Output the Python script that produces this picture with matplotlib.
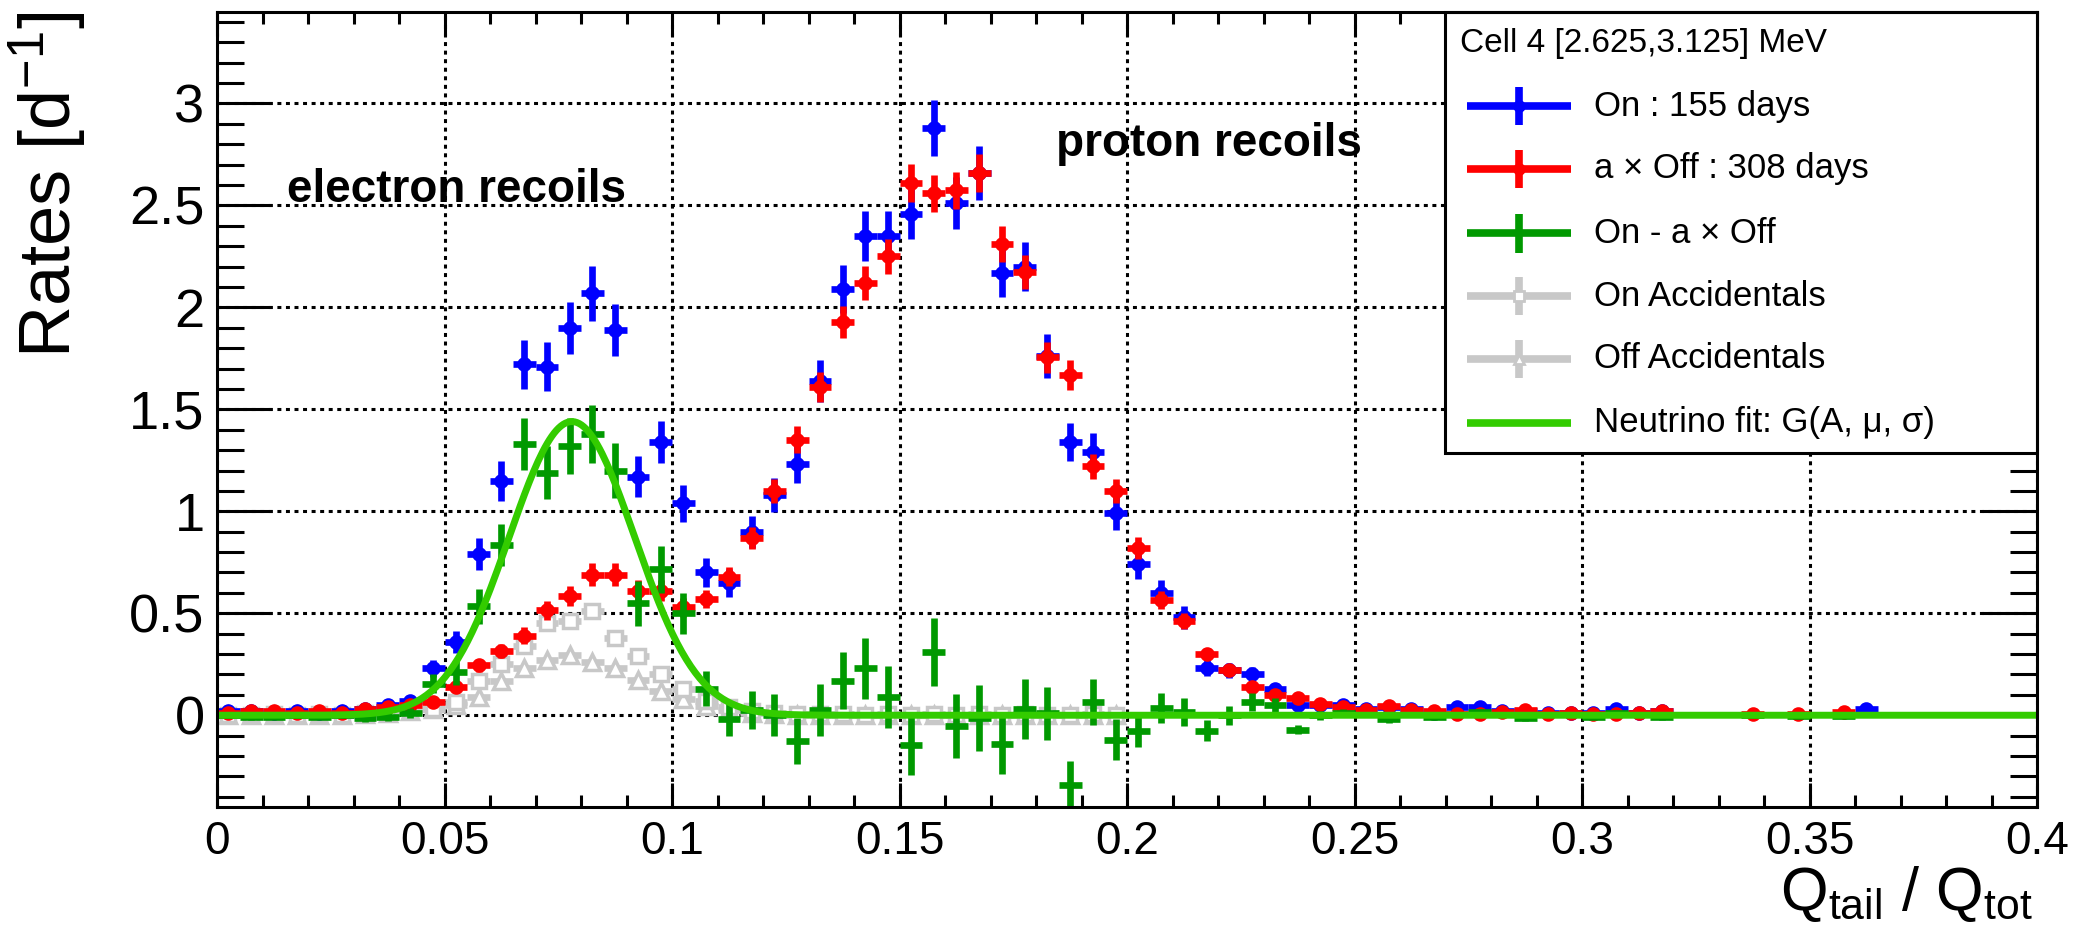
import numpy as np
import matplotlib.pyplot as plt
from matplotlib.ticker import MultipleLocator, FuncFormatter
from matplotlib.patches import Rectangle

plt.rcParams['font.family'] = ['Liberation Sans', 'DejaVu Sans']
plt.rcParams['mathtext.fontset'] = 'custom'
plt.rcParams['mathtext.rm'] = 'Liberation Sans'
plt.rcParams['mathtext.it'] = 'Liberation Sans:italic'

nan = np.nan

# histogram binning of Q_tail/Q_tot
bin_edges = np.linspace(0.0, 0.4, 81)
bin_centers = 0.5 * (bin_edges[:-1] + bin_edges[1:])
bin_halfwidth = 0.5 * (bin_edges[1] - bin_edges[0])

# On : 155 days
on_rate = [0.02, 0.02, 0.01, 0.02, 0.01, 0.02, 0.03, 0.05, 0.07, 0.23,
           0.36, 0.79, 1.15, 1.72, 1.71, 1.90, 2.07, 1.89, 1.17, 1.34,
           1.04, 0.70, 0.65, 0.90, 1.08, 1.23, 1.64, 2.09, 2.35, 2.35,
           2.46, 2.88, 2.51, 2.66, 2.17, 2.20, 1.76, 1.34, 1.29, 0.99,
           0.74, 0.60, 0.48, 0.23, 0.22, 0.20, 0.13, 0.05, 0.05, 0.05,
           0.03, 0.04, 0.03, 0.01, 0.04, 0.04, 0.02, 0.02, 0.01, 0.01,
           0.01, 0.03, 0.01, 0.02, nan, nan, nan, nan, nan, nan,
           nan, nan, 0.03, nan, nan, nan, nan, nan, nan, nan]
on_err = [0.012, 0.012, 0.008, 0.012, 0.008, 0.012, 0.014, 0.018, 0.022, 0.042,
          0.055, 0.080, 0.098, 0.122, 0.120, 0.128, 0.135, 0.128, 0.100, 0.105,
          0.090, 0.072, 0.068, 0.078, 0.085, 0.090, 0.104, 0.117, 0.124, 0.124,
          0.127, 0.137, 0.128, 0.132, 0.119, 0.120, 0.107, 0.094, 0.092, 0.080,
          0.070, 0.063, 0.056, 0.040, 0.038, 0.036, 0.029, 0.018, 0.018, 0.018,
          0.014, 0.016, 0.014, 0.008, 0.016, 0.016, 0.011, 0.011, 0.008, 0.008,
          0.008, 0.014, 0.008, 0.011, nan, nan, nan, nan, nan, nan,
          nan, nan, 0.014, nan, nan, nan, nan, nan, nan, nan]

# a x Off : 308 days
off_rate = [0.01, 0.02, 0.02, 0.01, 0.02, 0.01, 0.03, 0.04, 0.05, 0.065,
            0.14, 0.245, 0.315, 0.39, 0.515, 0.585, 0.69, 0.69, 0.61, 0.61,
            0.53, 0.57, 0.68, 0.87, 1.10, 1.35, 1.61, 1.93, 2.12, 2.25,
            2.61, 2.56, 2.575, 2.66, 2.31, 2.175, 1.755, 1.67, 1.22, 1.10,
            0.82, 0.565, 0.46, 0.30, 0.22, 0.14, 0.10, 0.085, 0.057, 0.04,
            0.025, 0.044, 0.028, 0.02, 0.008, 0.005, 0.016, 0.028, 0.008, 0.011,
            0.005, 0.008, 0.011, 0.02, nan, nan, nan, 0.005, nan, 0.005,
            nan, 0.016, nan, nan, nan, nan, nan, nan, nan, nan]
off_err = [0.006, 0.008, 0.008, 0.006, 0.008, 0.006, 0.010, 0.012, 0.013, 0.016,
           0.024, 0.032, 0.036, 0.041, 0.047, 0.050, 0.055, 0.055, 0.051, 0.051,
           0.047, 0.045, 0.047, 0.053, 0.060, 0.066, 0.072, 0.079, 0.083, 0.085,
           0.092, 0.091, 0.091, 0.093, 0.087, 0.084, 0.075, 0.074, 0.063, 0.060,
           0.052, 0.043, 0.039, 0.031, 0.027, 0.021, 0.018, 0.017, 0.014, 0.011,
           0.009, 0.012, 0.010, 0.008, 0.005, 0.004, 0.007, 0.010, 0.005, 0.006,
           0.004, 0.005, 0.006, 0.008, nan, nan, nan, 0.004, nan, 0.004,
           nan, 0.007, nan, nan, nan, nan, nan, nan, nan, nan]

# On - a x Off
diff_rate = [0.0, -0.01, -0.01, 0.0, -0.01, 0.0, -0.015, -0.01, 0.01, 0.155,
             0.21, 0.535, 0.835, 1.33, 1.19, 1.32, 1.38, 1.20, 0.55, 0.715,
             0.50, 0.13, -0.02, 0.025, 0.0, -0.125, 0.025, 0.17, 0.23, 0.09,
             -0.145, 0.31, -0.055, -0.015, -0.14, 0.03, 0.01, -0.34, 0.065, -0.12,
             -0.075, 0.035, 0.015, -0.075, 0.0, 0.065, 0.05, -0.07, 0.0, 0.01,
             nan, -0.02, nan, -0.01, nan, 0.015, nan, -0.015, nan, nan,
             -0.01, 0.01, nan, -0.01, nan, nan, nan, 0.0, nan, -0.005,
             nan, -0.005, nan, nan, nan, nan, nan, nan, nan, nan]
diff_err = [0.012, 0.014, 0.010, 0.013, 0.010, 0.013, 0.017, 0.020, 0.025, 0.045,
            0.060, 0.086, 0.104, 0.128, 0.128, 0.137, 0.143, 0.137, 0.110, 0.115,
            0.100, 0.085, 0.083, 0.094, 0.104, 0.112, 0.127, 0.141, 0.150, 0.152,
            0.150, 0.165, 0.157, 0.162, 0.148, 0.147, 0.130, 0.118, 0.112, 0.100,
            0.080, 0.075, 0.068, 0.050, 0.046, 0.042, 0.034, 0.022, 0.023, 0.021,
            nan, 0.020, nan, 0.012, nan, 0.016, nan, 0.015, nan, nan,
            0.009, 0.015, nan, 0.014, nan, nan, nan, 0.005, nan, 0.005,
            nan, 0.008, nan, nan, nan, nan, nan, nan, nan, nan]

# accidentals
on_acc = [0.0, 0.0, 0.005, 0.0, 0.005, 0.0, 0.01, 0.01, 0.02, 0.03,
          0.065, 0.17, 0.25, 0.34, 0.45, 0.46, 0.51, 0.38, 0.29, 0.20,
          0.13, 0.07, 0.04, 0.02, 0.01, 0.005, 0.005, 0.005, 0.0, 0.005,
          0.0, 0.005, 0.0, 0.005, 0.0, 0.005, 0.0, 0.0, 0.005, 0.0] + [nan] * 40
on_acc_err = [0.003, 0.003, 0.003, 0.003, 0.003, 0.003, 0.004, 0.004, 0.005, 0.006,
              0.010, 0.015, 0.018, 0.020, 0.022, 0.022, 0.024, 0.020, 0.018, 0.015,
              0.012, 0.010, 0.008, 0.006, 0.004, 0.003, 0.003, 0.003, 0.003, 0.003,
              0.003, 0.003, 0.003, 0.003, 0.003, 0.003, 0.003, 0.003, 0.003, 0.003] + [nan] * 40
off_acc = [0.0, 0.0, 0.0, 0.0, 0.0, 0.0, 0.005, 0.01, 0.02, 0.03,
           0.05, 0.09, 0.17, 0.23, 0.27, 0.295, 0.26, 0.23, 0.175, 0.12,
           0.08, 0.045, 0.025, 0.01, 0.005, 0.0, 0.0, 0.0, 0.0, 0.0,
           0.0, 0.0, 0.0, 0.0, 0.0, 0.0, 0.0, 0.0, 0.0, 0.0] + [nan] * 40
off_acc_err = [0.002, 0.002, 0.002, 0.002, 0.002, 0.002, 0.003, 0.003, 0.004, 0.005,
               0.007, 0.009, 0.012, 0.014, 0.015, 0.016, 0.015, 0.014, 0.012, 0.010,
               0.008, 0.006, 0.005, 0.004, 0.003, 0.002, 0.002, 0.002, 0.002, 0.002,
               0.002, 0.002, 0.002, 0.002, 0.002, 0.002, 0.002, 0.002, 0.002, 0.002] + [nan] * 40

# neutrino fit G(A, mu, sigma)
fit_A = 1.44
fit_mu = 0.078
fit_sigma = 0.0138

legend_title = "Cell 4 [2.625,3.125] MeV"
legend_labels = ["On : 155 days", "a \u00d7 Off : 308 days", "On - a \u00d7 Off",
                 "On Accidentals", "Off Accidentals",
                 "Neutrino fit: G(A, \u03bc, \u03c3)"]

c_on = '#0000ff'
c_off = '#ff0000'
c_diff = '#009900'
c_acc = '#c8c8c8'
c_fit = '#33cc00'

fig = plt.figure(figsize=(20.84, 9.42), dpi=100)
ax = fig.add_axes([0.10413, 0.14331, 0.87332, 0.84429])

elw = 4.8

def draw(y, err, color, fmt, ms=9, mfc=None, mew=1.5, z=3):
    ax.errorbar(bin_centers, np.array(y), xerr=bin_halfwidth, yerr=np.array(err),
                fmt=fmt, color=color, ecolor=color, ms=ms,
                mfc=color if mfc is None else mfc, mec=color, mew=mew,
                elinewidth=elw, capsize=0, zorder=z)

draw(off_acc, off_acc_err, c_acc, '^', ms=11, mfc='white', mew=2.5, z=2)
draw(on_acc, on_acc_err, c_acc, 's', ms=10, mfc='white', mew=2.5, z=2)
draw(on_rate, on_err, c_on, 'o', ms=9, z=3)
draw(off_rate, off_err, c_off, 'o', ms=9, z=4)
draw(diff_rate, diff_err, c_diff, 'none', z=5)

xs = np.linspace(0.0, 0.4, 800)
ax.plot(xs, fit_A * np.exp(-0.5 * ((xs - fit_mu) / fit_sigma) ** 2),
        color=c_fit, lw=5, zorder=6)

ax.set_xlim(0, 0.4)
ax.set_ylim(-0.45, 3.45)
ax.xaxis.set_major_locator(MultipleLocator(0.05))
ax.xaxis.set_minor_locator(MultipleLocator(0.01))
ax.yaxis.set_major_locator(MultipleLocator(0.5))
ax.yaxis.set_minor_locator(MultipleLocator(0.1))
fmt = FuncFormatter(lambda v, p: '%g' % round(v, 3))
ax.xaxis.set_major_formatter(fmt)
ax.yaxis.set_major_formatter(fmt)

ax.grid(True, which='major', color='k', linestyle=(0, (1.3, 1.5)), lw=2.2, zorder=1)
ax.set_axisbelow(True)
for s in ax.spines.values():
    s.set_linewidth(2.2)
    s.set_zorder(12)

ax.tick_params(which='both', direction='in', top=True, right=True, width=2.2)
ax.tick_params(axis='y', which='major', length=39.6, labelsize=39, pad=9)
ax.tick_params(axis='y', which='minor', length=19.7)
ax.tick_params(axis='x', which='major', length=17.3, labelsize=33, pad=9)
ax.tick_params(axis='x', which='minor', length=8.6)

ax.set_ylabel('Rates [d$^{-1}$]', fontsize=52, loc='top')
ax.yaxis.set_label_coords(-0.0703, 1.0)
ax.set_xlabel(r'Q$_{\rm tail}$ / Q$_{\rm tot}$', fontsize=44, loc='right')
ax.xaxis.set_label_coords(0.9978, -0.072)

ax.text(0.0154, 2.515, 'electron recoils', fontsize=33, fontweight='bold', zorder=7)
ax.text(0.1844, 2.74, 'proton recoils', fontsize=33, fontweight='bold', zorder=7)

# legend box (ROOT TLegend style)
lx0, ly0 = 0.6747, 0.445
ax.add_patch(Rectangle((lx0, ly0), 1.0 - lx0, 1.0 - ly0, transform=ax.transAxes,
                       fc='white', ec='k', lw=2.2, zorder=10, clip_on=False))
ax.text(0.683, 0.9606, legend_title, transform=ax.transAxes, fontsize=24,
        va='center', ha='left', zorder=11)
row_y = [0.8814, 0.8022, 0.7217, 0.6425, 0.5633, 0.4829]
hx0, hx1 = 0.6866, 0.7437
hxc = 0.5 * (hx0 + hx1)
hdy = 0.0245
handles = [(c_on, 'o', c_on), (c_off, 'o', c_off), (c_diff, None, None),
           (c_acc, 's', 'white'), (c_acc, '^', 'white'), (c_fit, None, None)]
for i, (yy, lab) in enumerate(zip(row_y, legend_labels)):
    col, mk, fc = handles[i]
    kw = dict(transform=ax.transAxes, clip_on=False, zorder=11, solid_capstyle='butt')
    ax.plot([hx0, hx1], [yy, yy], color=col, lw=5.5, **kw)
    if i < 5:
        ax.plot([hxc, hxc], [yy - hdy, yy + hdy], color=col, lw=5.5, **kw)
    if mk is not None:
        ax.plot([hxc], [yy], marker=mk, ms=7, mfc=fc, mec=col, mew=2,
                transform=ax.transAxes, clip_on=False, zorder=12)
    ax.text(0.7564, yy, lab, transform=ax.transAxes, fontsize=25,
            va='center', ha='left', zorder=11)

fig.savefig('out.png', dpi=100)
